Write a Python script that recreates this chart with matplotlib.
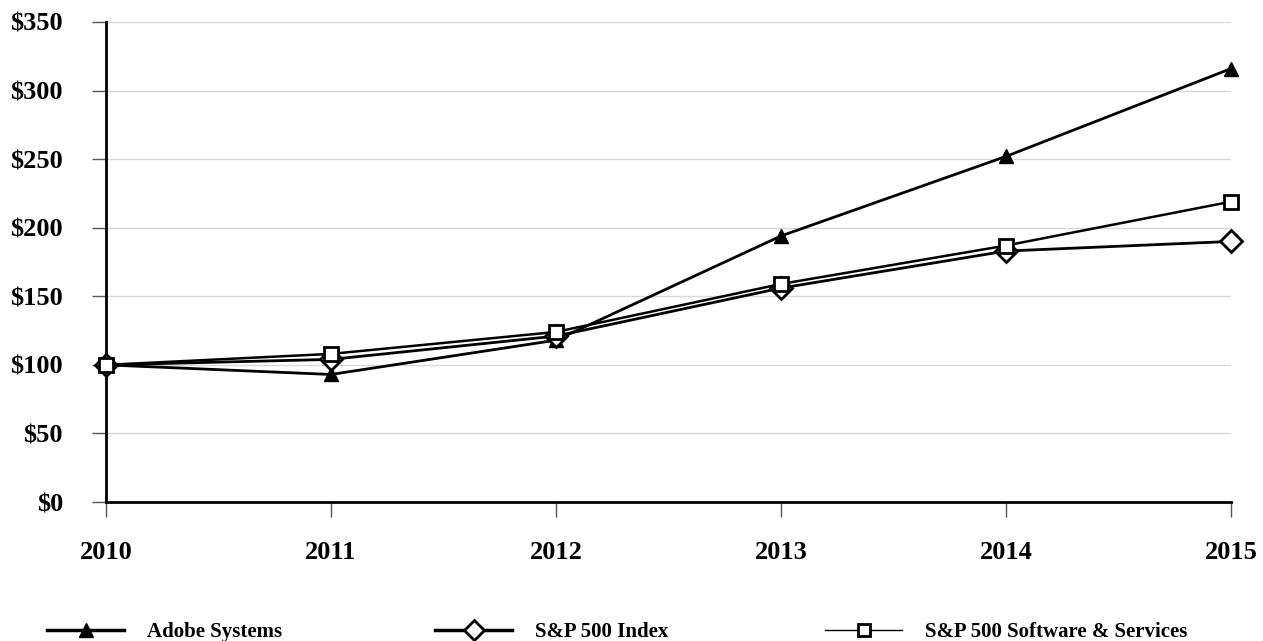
import matplotlib.pyplot as plt
from matplotlib.lines import Line2D
from matplotlib.ticker import FuncFormatter

years = [2010, 2011, 2012, 2013, 2014, 2015]
adobe = [100, 93, 118, 194, 252, 316]
sp500 = [100, 104, 121, 156, 183, 190]
software = [100, 108, 124, 159, 187, 219]

plt.rcParams['font.family'] = ['Liberation Serif', 'DejaVu Serif']
plt.rcParams['font.weight'] = 'bold'

fig = plt.figure(figsize=(12.63, 6.41), dpi=100)
ax = fig.add_axes([0.0839, 0.2168, 0.8908, 0.7489])

ax.plot(years, adobe, color='black', lw=2, marker='^', ms=10,
        mfc='black', mec='black', clip_on=False, zorder=3)
ax.plot(years, sp500, color='black', lw=2, marker='D', ms=11,
        mfc='white', mec='black', mew=2, clip_on=False, zorder=3)
ax.plot(years, software, color='black', lw=1.8, marker='s', ms=10,
        mfc='white', mec='black', mew=2, clip_on=False, zorder=4)

ax.set_xlim(2010, 2015)
ax.set_ylim(0, 350)
ax.set_xticks(years)
ax.set_yticks(range(0, 351, 50))
ax.yaxis.set_major_formatter(FuncFormatter(lambda v, p: '$%d' % v))
ax.grid(axis='y', color='#d9d9d9', lw=1)
ax.set_axisbelow(True)

for s in ['top', 'right']:
    ax.spines[s].set_visible(False)
for s in ['left', 'bottom']:
    ax.spines[s].set_linewidth(2)
ax.tick_params(axis='y', length=10, width=1, color='#555555', pad=21, labelsize=19)
ax.tick_params(axis='x', length=11, width=1, color='#555555', pad=17, labelsize=19)
ax.tick_params(direction='out')

# legend, one entry at a time so spacing matches
handles = [
    (Line2D([], [], color='black', lw=2.5, marker='^', ms=10, mfc='black'), 'Adobe Systems', 0.0372),
    (Line2D([], [], color='black', lw=2.5, marker='D', ms=10, mfc='white', mew=2), 'S&P 500 Index', 0.3444),
    (Line2D([], [], color='black', lw=1, marker='s', ms=9, mfc='white', mew=2), 'S&P 500 Software & Services', 0.6532),
]
for h, lab, x in handles:
    fig.legend(handles=[h], labels=[lab], loc='center left', bbox_to_anchor=(x, 0.014),
               frameon=False, borderpad=0, borderaxespad=0, handlelength=3.7,
               handletextpad=1.1, prop={'size': 15, 'weight': 'bold'})

fig.savefig('out.png', dpi=100)
